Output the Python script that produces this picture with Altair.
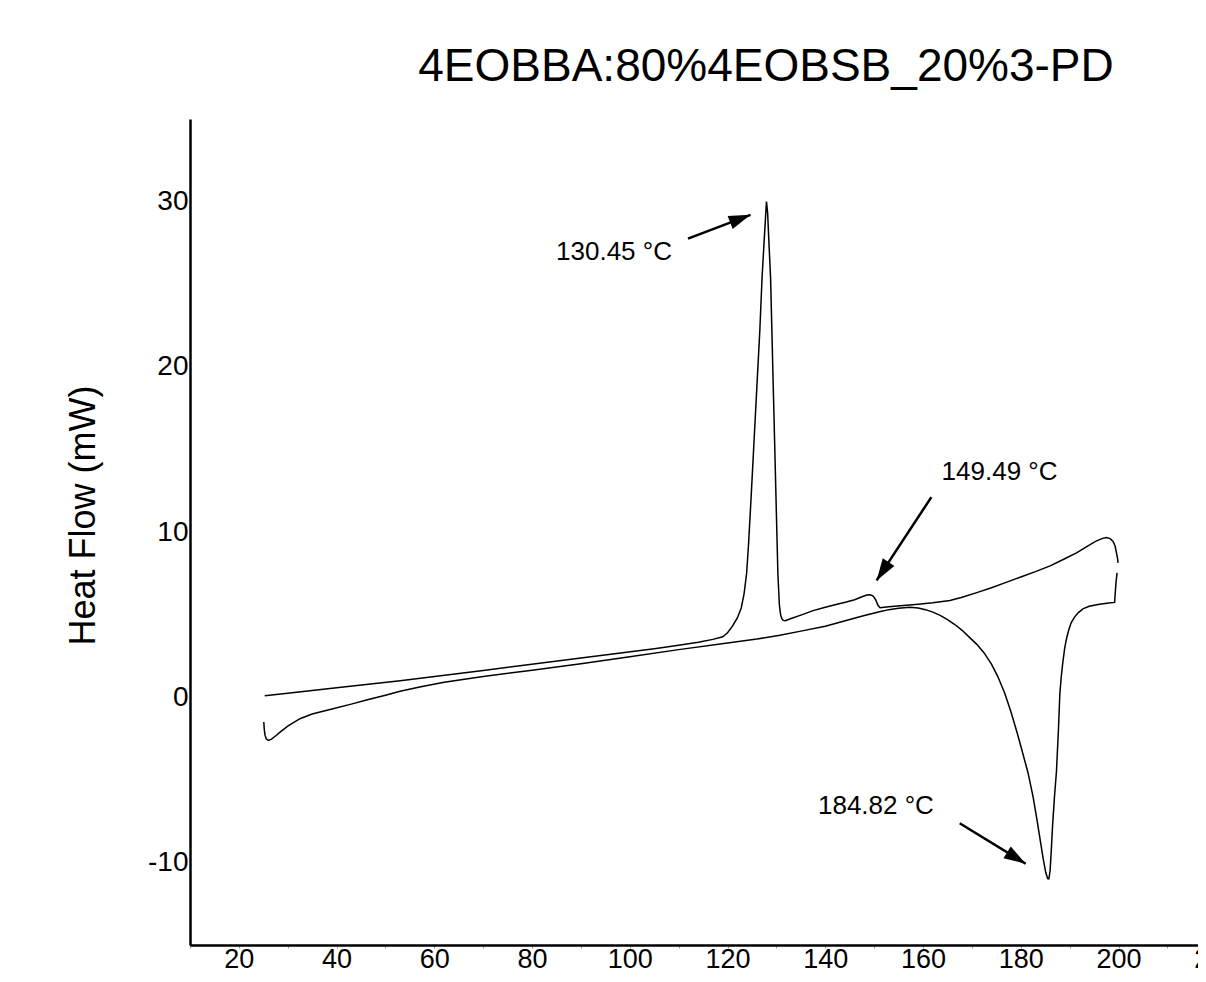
import math
import altair as alt
import pandas as pd

title_text = "4EOBBA:80%4EOBSB_20%3-PD"
y_title = "Heat Flow (mW)"

# cooling trace (upper at left, crystallisation peaks)
cool_T = [25.3, 30, 40, 53, 70, 90, 105, 110, 114, 117, 119, 120, 121, 122, 122.8, 123.4,
          123.9, 124.3, 124.8, 125.4, 126.0, 126.6, 127.06, 127.5, 127.8, 127.96, 128.2,
          128.5, 128.8, 129.1, 129.4, 129.7, 130.0, 130.3, 130.45, 130.6, 130.85, 131.1,
          131.4, 131.8, 133, 135, 137.5, 140, 142, 144.3, 146, 147.5, 148.5, 149.2, 149.8,
          150.3, 150.8, 151.2, 153, 156, 159, 162, 165.5, 168, 171, 174, 177, 180, 183, 186,
          189, 191.5, 193.5, 195.3, 196.6, 197.5, 198.3, 198.9, 199.3, 199.6, 199.8, 199.9]
cool_Y = [0.09, 0.24, 0.57, 0.99, 1.62, 2.37, 2.93, 3.14, 3.32, 3.5, 3.66, 3.9, 4.3, 4.8,
          5.4, 6.3, 7.5, 9.3, 12.0, 15.4, 18.8, 22.2, 25.4, 27.7, 29.2, 30.0, 29.3, 27.3,
          25.4, 21.8, 18.2, 14.6, 11.0, 7.46, 6.5, 5.6, 5.0, 4.75, 4.65, 4.63, 4.76, 4.97,
          5.24, 5.45, 5.6, 5.76, 5.9, 6.08, 6.18, 6.2, 6.12, 5.9, 5.55, 5.42, 5.47, 5.55,
          5.63, 5.72, 5.86, 6.05, 6.33, 6.63, 6.95, 7.28, 7.6, 7.95, 8.38, 8.75, 9.12, 9.43,
          9.6, 9.66, 9.6, 9.42, 9.15, 8.7, 8.4, 8.13]

# heating trace (start-up dip, melting endotherm)
heat_T = [25.1, 25.2, 25.35, 25.6, 26.0, 26.6, 27.5, 28.5, 30, 32.5, 35, 39.25, 43, 46.1,
          50, 53, 57, 62, 70, 80, 90, 100, 110, 120, 126, 130.7, 135, 140, 145, 148, 151.1,
          153, 155, 157.3, 159, 160.5, 162, 163.5, 165, 166.5, 168, 169.5, 171, 172.5, 174,
          175.3, 176.7, 178, 179.3, 180.5, 181.5, 182.5, 183.3, 184, 184.6, 185.1, 185.5,
          185.75, 186.0, 186.2, 186.5, 186.9, 187.3, 187.7, 188.0, 188.3, 188.6, 189.0,
          189.4, 189.8, 190.3, 191.0, 191.8, 192.7, 194.0, 196.1, 198, 199.2, 199.35, 199.5,
          199.7]
heat_Y = [-1.5, -1.95, -2.3, -2.52, -2.62, -2.55, -2.35, -2.1, -1.75, -1.3, -1.02, -0.7,
          -0.42, -0.17, 0.12, 0.36, 0.62, 0.9, 1.25, 1.63, 2.03, 2.45, 2.88, 3.28, 3.52, 3.75,
          4.0, 4.3, 4.7, 4.95, 5.17, 5.3, 5.39, 5.44, 5.4, 5.3, 5.15, 4.95, 4.7, 4.4, 4.05,
          3.62, 3.2, 2.68, 2.0, 1.25, 0.25, -0.9, -2.2, -3.5, -4.6, -6.0, -7.4, -8.7, -9.8,
          -10.6, -10.98, -11.0, -10.5, -9.5, -7.8, -6.0, -4.5, -2.0, 0.25, 1.3, 2.1, 3.0,
          3.6, 4.05, 4.5, 4.85, 5.12, 5.35, 5.5, 5.63, 5.7, 5.74, 6.4, 7.0, 7.53]

ann_text = ["130.45 \u00b0C", "149.49 \u00b0C", "184.82 \u00b0C"]
ann_T = [84.9, 163.8, 138.5]
ann_Y = [26.45, 13.17, -7.05]
arrow_T0 = [111.9, 161.7, 167.5]
arrow_Y0 = [27.76, 12.11, -7.63]
arrow_T1 = [124.7, 150.5, 181.0]
arrow_Y1 = [29.2, 7.07, -10.08]

x_dom = [10, 240]
y_dom = [-15, 35]
W, H = 1124, 826
FONT = "Liberation Sans"

kx = W / (x_dom[1] - x_dom[0])
ky = H / (y_dom[1] - y_dom[0])
angles = []
for t0, y0, t1, y1 in zip(arrow_T0, arrow_Y0, arrow_T1, arrow_Y1):
    a = math.degrees(math.atan2((t1 - t0) * kx, (y1 - y0) * ky))
    angles.append(a % 360)

cool = pd.DataFrame({"T": cool_T, "Y": cool_Y, "i": list(range(len(cool_T)))})
heat = pd.DataFrame({"T": heat_T, "Y": heat_Y, "i": list(range(len(heat_T)))})
ann = pd.DataFrame({"txt": ann_text, "T": ann_T, "Y": ann_Y})
arrows = pd.DataFrame({"T0": arrow_T0, "Y0": arrow_Y0, "T1": arrow_T1, "Y1": arrow_Y1,
                       "ang": angles})

xs = alt.Scale(domain=x_dom, nice=False, zero=False)
ys = alt.Scale(domain=y_dom, nice=False, zero=False)

x_axis = alt.Axis(values=list(range(10, 241, 10)),
                  labelExpr="datum.value % 20 == 0 ? datum.label : ''",
                  title=None, grid=False, domainColor="black", domainWidth=2.5,
                  tickColor="#999999", tickSize=3, tickWidth=1,
                  labelFontSize=27, labelFont=FONT, labelColor="black",
                  labelPadding=-2, labelOverlap=False)
y_axis = alt.Axis(values=[-10, 0, 10, 20, 30], title=y_title, grid=False,
                  labelExpr="toString(datum.value)",
                  ticks=False, tickSize=0, domainColor="black", domainWidth=2.5,
                  labelFontSize=28, labelFont=FONT, labelColor="black", labelPadding=2,
                  titleFont=FONT, titleFontSize=36, titleFontWeight="normal",
                  titleColor="black", titleAngle=270, titleX=-107, titleY=396,
                  titleAlign="center", titleBaseline="middle")

base_x = alt.X("T:Q", scale=xs, axis=x_axis)
base_y = alt.Y("Y:Q", scale=ys, axis=y_axis)

cool_line = alt.Chart(cool).mark_line(color="black", strokeWidth=1.5).encode(
    x=base_x, y=base_y, order="i:Q")
heat_line = alt.Chart(heat).mark_line(color="black", strokeWidth=1.5).encode(
    x=alt.X("T:Q", scale=xs), y=alt.Y("Y:Q", scale=ys), order="i:Q")

rules = alt.Chart(arrows).mark_rule(color="black", strokeWidth=2.5).encode(
    x=alt.X("T0:Q", scale=xs), y=alt.Y("Y0:Q", scale=ys),
    x2="T1:Q", y2="Y1:Q")
heads = alt.Chart(arrows).mark_point(
    shape="M0,0L0.32,1L-0.32,1Z", filled=True, color="black", opacity=1,
    size=1900, strokeWidth=0).encode(
    x=alt.X("T1:Q", scale=xs), y=alt.Y("Y1:Q", scale=ys), angle=alt.Angle("ang:Q", scale=None))

texts = alt.Chart(ann).mark_text(align="left", baseline="alphabetic", fontSize=26,
                                 font=FONT, color="black").encode(
    x=alt.X("T:Q", scale=xs), y=alt.Y("Y:Q", scale=ys), text="txt:N")

chart = alt.layer(cool_line, heat_line, rules, heads, texts).properties(
    width=W, height=H,
    title=alt.TitleParams(text=title_text, fontSize=46, font=FONT, fontWeight="normal",
                          color="black", anchor="middle", frame="group", dx=14, dy=42,
                          baseline="alphabetic", offset=34),
    autosize=alt.AutoSizeParams(type="none"),
    padding={"left": 182, "top": 111, "right": -116, "bottom": 29},
    background="white",
).configure_view(stroke=None)

chart.save("out.html", embed_options={"renderer": "svg", "actions": False})
